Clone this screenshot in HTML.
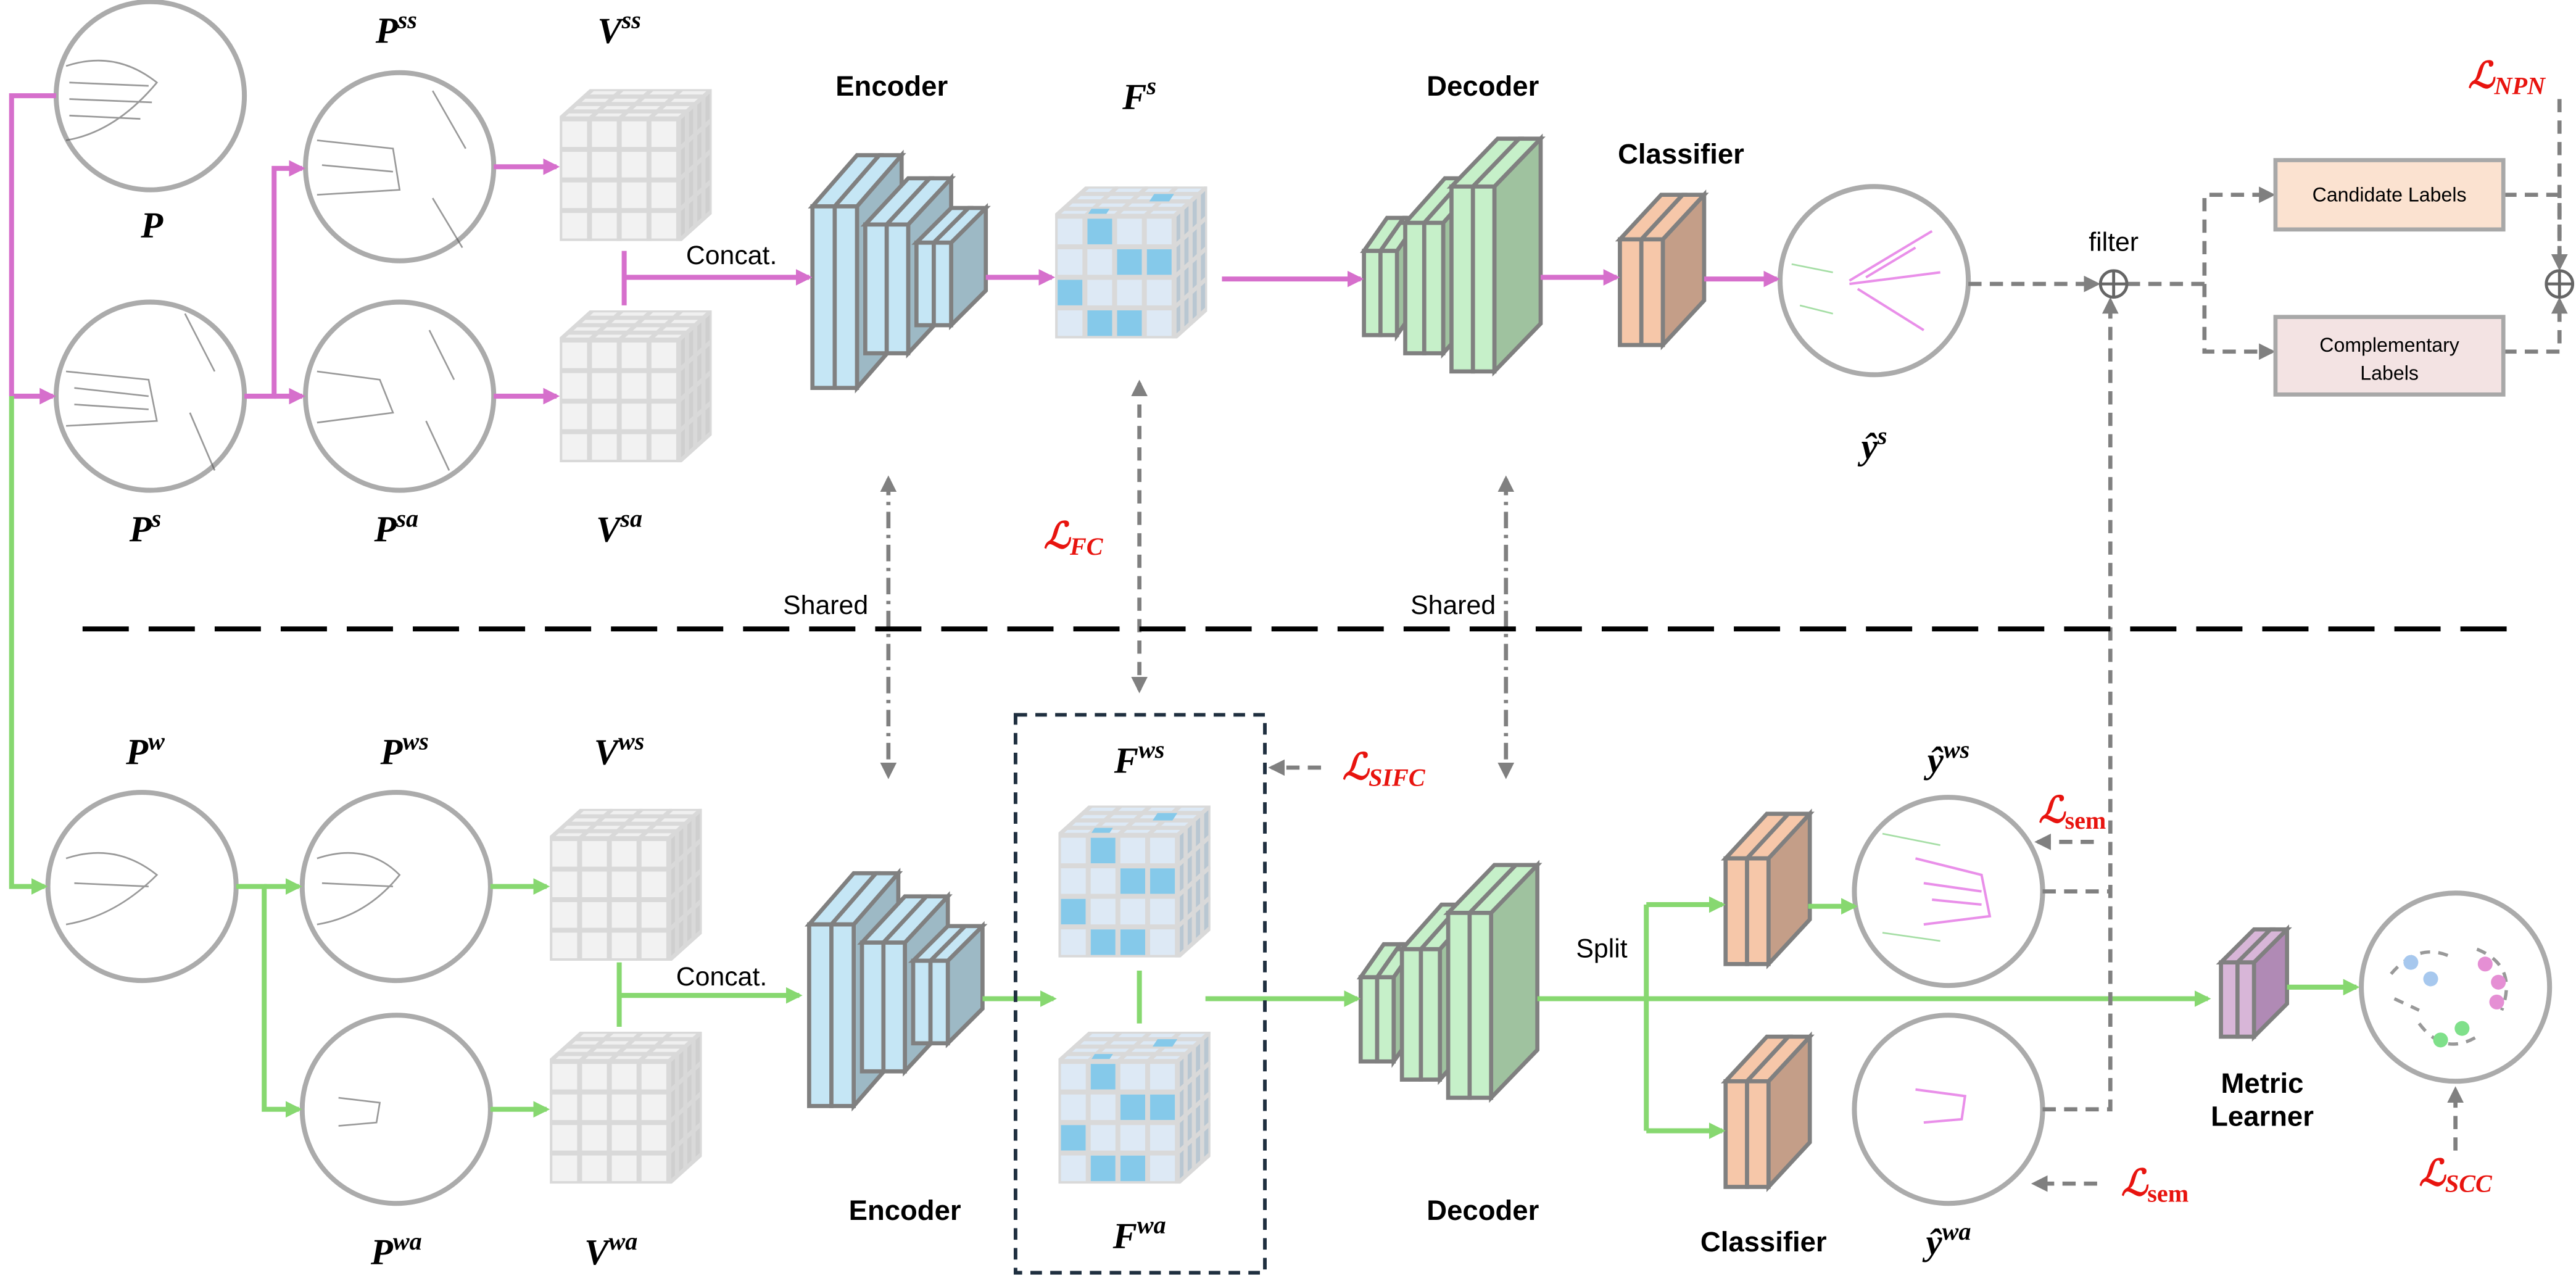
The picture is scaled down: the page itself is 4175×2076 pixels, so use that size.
<!DOCTYPE html>
<html><head><meta charset="utf-8"><style>
html,body{margin:0;padding:0;background:#fff}
svg{display:block}
.m{font-family:"Liberation Serif",serif;font-weight:bold;font-style:italic;font-size:22px;text-anchor:middle}
.r{fill:#E8140F}
.b{font-family:"Liberation Sans",sans-serif;font-weight:bold;font-size:17px;text-anchor:middle}
.n{font-family:"Liberation Sans",sans-serif;font-size:16px;text-anchor:middle}
.s{font-family:"Liberation Sans",sans-serif;font-size:12px;text-anchor:middle}
</style></head><body>
<svg width="4175" height="2076" viewBox="0 0 1560 776" preserveAspectRatio="none" xmlns="http://www.w3.org/2000/svg">
<defs>
<marker id="ap" markerWidth="10" markerHeight="10" refX="8" refY="5" orient="auto" markerUnits="userSpaceOnUse"><path d="M0,0 L10,5 L0,10 z" fill="#D66FCC"/></marker>
<marker id="ag" markerWidth="10" markerHeight="10" refX="8" refY="5" orient="auto" markerUnits="userSpaceOnUse"><path d="M0,0 L10,5 L0,10 z" fill="#87D870"/></marker>
<marker id="ak" markerWidth="10" markerHeight="10" refX="8" refY="5" orient="auto-start-reverse" markerUnits="userSpaceOnUse"><path d="M0,0 L10,5 L0,10 z" fill="#808080"/></marker>
<symbol id="vc" viewBox="0 0 92 92" width="92" height="92">
<polygon points="0,18 20,0 92,0 72,18" fill="#f0f0f0" stroke="#d9d9d9" stroke-width="2.5"/>
<polygon points="72,18 92,0 92,74 72,92" fill="#cfcfcf" stroke="#d9d9d9" stroke-width="2.5"/>
<path d="M5,13.5 H77 M10,9 H82 M15,4.5 H87 M18,18 L38,0 M36,18 L56,0 M54,18 L74,0 M77,13.5 V87.5 M82,9 V83 M87,4.5 V78.5 M72,36.5 L92,18.5 M72,55 L92,37 M72,73.5 L92,55.5" stroke="#d9d9d9" stroke-width="2.5" fill="none"/>
<rect x="0" y="18" width="72" height="74" fill="#f2f2f2" stroke="#d9d9d9" stroke-width="3"/>
<path d="M18,18 V92 M36,18 V92 M54,18 V92 M0,36.5 H72 M0,55 H72 M0,73.5 H72" stroke="#d9d9d9" stroke-width="3"/>
</symbol>
<symbol id="fc" viewBox="0 0 92 92" width="92" height="92">
<polygon points="0,18 20,0 92,0 72,18" fill="#dde9f5" stroke="#d9d9d9" stroke-width="2.5"/>
<polygon points="72,18 92,0 92,74 72,92" fill="#b9c7d2" stroke="#d9d9d9" stroke-width="2.5"/>
<path d="M5,13.5 H77 M10,9 H82 M15,4.5 H87 M18,18 L38,0 M36,18 L56,0 M54,18 L74,0 M77,13.5 V87.5 M82,9 V83 M87,4.5 V78.5 M72,36.5 L92,18.5 M72,55 L92,37 M72,73.5 L92,55.5" stroke="#d9d9d9" stroke-width="2.5" fill="none"/>
<polygon points="60,4.5 72,4.5 69,9 57,9" fill="#85C9EA"/>
<polygon points="22,13.5 33,13.5 30,18 19,18" fill="#85C9EA"/>
<rect x="0" y="18" width="72" height="74" fill="#dde9f5" stroke="#d9d9d9" stroke-width="3"/>
<rect x="19.5" y="19.5" width="15" height="15.5" fill="#85C9EA"/>
<rect x="37.5" y="38" width="15" height="15.5" fill="#85C9EA"/>
<rect x="55.5" y="38" width="15" height="15.5" fill="#85C9EA"/>
<rect x="1.5" y="56.5" width="15" height="15.5" fill="#85C9EA"/>
<rect x="19.5" y="75" width="15" height="15.5" fill="#85C9EA"/>
<rect x="37.5" y="75" width="15" height="15.5" fill="#85C9EA"/>
<path d="M18,18 V92 M36,18 V92 M54,18 V92 M0,36.5 H72 M0,55 H72 M0,73.5 H72" stroke="#d9d9d9" stroke-width="3"/>
</symbol>
</defs>

<!-- top encoder -->
<g id="enc" stroke="#808080" stroke-width="2.5" stroke-linejoin="miter">
<polygon points="519,125 546,94 546,204 519,235" fill="#9DB9C5"/>
<polygon points="492,125 519,94 532.5,94 505.5,125" fill="#C5E6F5"/>
<polygon points="505.5,125 532.5,94 546,94 519,125" fill="#C5E6F5"/>
<rect x="492" y="125" width="13.5" height="110" fill="#C5E6F5"/>
<rect x="505.5" y="125" width="13.5" height="110" fill="#C5E6F5"/>
<polygon points="550,136 576,108 576,186 550,214" fill="#9DB9C5"/>
<polygon points="524,136 550,108 563,108 537,136" fill="#C5E6F5"/>
<polygon points="537,136 563,108 576,108 550,136" fill="#C5E6F5"/>
<rect x="524" y="136" width="13" height="78" fill="#C5E6F5"/>
<rect x="537" y="136" width="13" height="78" fill="#C5E6F5"/>
<polygon points="576,147 597,126 597,176 576,197" fill="#9DB9C5"/>
<polygon points="555,147 576,126 586.5,126 565.5,147" fill="#C5E6F5"/>
<polygon points="565.5,147 586.5,126 597,126 576,147" fill="#C5E6F5"/>
<rect x="555" y="147" width="10.5" height="50" fill="#C5E6F5"/>
<rect x="565.5" y="147" width="10.5" height="50" fill="#C5E6F5"/>
</g>
<use href="#enc" transform="translate(-2,435)"/>

<!-- top decoder -->
<g id="dec" stroke="#808080" stroke-width="2.5">
<polygon points="846,152 860,132 860,183 846,203" fill="#9FC29F"/>
<polygon points="826,152 840,132 850,132 836,152" fill="#C6F0C9"/>
<polygon points="836,152 850,132 860,132 846,152" fill="#C6F0C9"/>
<rect x="826" y="152" width="10" height="51" fill="#C6F0C9"/>
<rect x="836" y="152" width="10" height="51" fill="#C6F0C9"/>
<polygon points="874,135 898,108 898,187 874,214" fill="#9FC29F"/>
<polygon points="851,135 875,108 886.5,108 862.5,135" fill="#C6F0C9"/>
<polygon points="862.5,135 886.5,108 898,108 874,135" fill="#C6F0C9"/>
<rect x="851" y="135" width="11.5" height="79" fill="#C6F0C9"/>
<rect x="862.5" y="135" width="11.5" height="79" fill="#C6F0C9"/>
<polygon points="905,113 933,84 933,196 905,225" fill="#9FC29F"/>
<polygon points="879,113 907,84 920,84 892,113" fill="#C6F0C9"/>
<polygon points="892,113 920,84 933,84 905,113" fill="#C6F0C9"/>
<rect x="879" y="113" width="13" height="112" fill="#C6F0C9"/>
<rect x="892" y="113" width="13" height="112" fill="#C6F0C9"/>
</g>
<use href="#dec" transform="translate(-2,440)"/>

<!-- classifiers -->
<g id="cls" stroke="#808080" stroke-width="2.5">
<polygon points="1007,145 1032,118 1032,182 1007,209" fill="#C49E88"/>
<polygon points="981,145 1006,118 1019,118 994,145" fill="#F6C7A9"/>
<polygon points="994,145 1019,118 1032,118 1007,145" fill="#F6C7A9"/>
<rect x="981" y="145" width="13" height="64" fill="#F6C7A9"/>
<rect x="994" y="145" width="13" height="64" fill="#F6C7A9"/>
</g>
<use href="#cls" transform="translate(64,375)"/>
<use href="#cls" transform="translate(64,510)"/>
<!-- metric learner -->
<g stroke="#808080" stroke-width="2.5">
<polygon points="1365,583 1385,563 1385,608 1365,628" fill="#B08AB5"/>
<polygon points="1345,583 1365,563 1375,563 1355,583" fill="#D8B6D8"/>
<polygon points="1355,583 1375,563 1385,563 1365,583" fill="#D8B6D8"/>
<rect x="1345" y="583" width="10" height="45" fill="#D8B6D8"/>
<rect x="1355" y="583" width="10" height="45" fill="#D8B6D8"/>
</g>

<!-- cubes -->
<use href="#vc" x="339" y="54" width="92" height="92"/>
<use href="#vc" x="339" y="188" width="92" height="92"/>
<use href="#vc" x="333" y="490" width="92" height="92"/>
<use href="#vc" x="333" y="625" width="92" height="92"/>
<use href="#fc" x="639" y="113" width="92" height="92"/>
<use href="#fc" x="641" y="488" width="92" height="92"/>
<use href="#fc" x="641" y="625" width="92" height="92"/>

<!-- circles -->
<g fill="#fff" stroke="#ababab" stroke-width="3">
<circle cx="91" cy="58" r="57"/><circle cx="91" cy="240" r="57"/>
<circle cx="242" cy="101" r="57"/><circle cx="242" cy="240" r="57"/>
<circle cx="1135" cy="170" r="57"/>
<circle cx="86" cy="537" r="57"/><circle cx="240" cy="537" r="57"/><circle cx="240" cy="672" r="57"/>
<circle cx="1180" cy="540" r="57"/><circle cx="1180" cy="672" r="57"/>
<circle cx="1487" cy="598" r="57"/>
</g>
<!-- rough point clouds -->
<g stroke="#555" stroke-width="1" fill="none" opacity="0.6">
<path d="M40,40 Q70,30 95,50 Q70,80 40,85 M42,50 L90,52 M42,60 L92,62 M42,70 L85,72"/>
<path d="M40,225 L90,230 L95,255 L40,258 M45,235 L90,240 M45,245 L90,248 M112,190 L130,225 M115,250 L130,285"/>
<path d="M192,85 L238,90 L242,115 L192,118 M195,100 L238,104 M262,55 L282,90 M262,120 L280,150"/>
<path d="M192,225 L230,230 L238,250 L192,256 M260,200 L275,230 M258,255 L272,285"/>
<path d="M40,520 Q70,510 95,530 Q70,555 40,560 M45,535 L90,537"/>
<path d="M192,520 Q222,510 242,530 Q222,555 192,560 M195,535 L238,537"/>
<path d="M205,665 L230,668 L228,680 L205,682"/>
</g>
<g stroke="#E060E0" stroke-width="1.5" fill="none" opacity="0.7">
<path d="M1120,170 L1170,140 M1120,172 L1175,165 M1125,175 L1165,200 M1130,168 L1160,150"/>
<path d="M1160,520 L1200,530 L1205,555 L1165,560 M1165,535 L1200,540 M1170,545 L1200,548"/>
<path d="M1160,660 L1190,664 L1188,678 L1165,680"/>
</g>
<g stroke="#7FD07F" stroke-width="1" fill="none" opacity="0.7">
<path d="M1085,160 L1110,165 M1090,185 L1110,190 M1140,505 L1175,512 M1140,565 L1175,570"/>
</g>
<!-- metric circle content -->
<g stroke="#999" stroke-width="2" fill="none" stroke-dasharray="6 5">
<path d="M1448,590 Q1465,570 1485,580"/><path d="M1500,575 Q1525,585 1515,612"/><path d="M1465,620 Q1480,640 1500,628"/><path d="M1450,605 L1465,612"/>
</g>
<g>
<circle cx="1460" cy="583" r="4.5" fill="#A7C8EE"/><circle cx="1472" cy="593" r="4.5" fill="#A7C8EE"/>
<circle cx="1505" cy="584" r="4.5" fill="#E58FD4"/><circle cx="1513" cy="595" r="4.5" fill="#E58FD4"/><circle cx="1512" cy="607" r="4.5" fill="#E58FD4"/>
<circle cx="1478" cy="630" r="4.5" fill="#7FE08A"/><circle cx="1491" cy="623" r="4.5" fill="#7FE08A"/>
</g>

<!-- pink connectors -->
<g stroke="#D66FCC" stroke-width="3" fill="none">
<path d="M34,58 H7 V240"/>
<path d="M7,240 H32" marker-end="url(#ap)"/>
<path d="M148,240 H166 V102 H183" marker-end="url(#ap)"/>
<path d="M166,240 H183" marker-end="url(#ap)"/>
<path d="M299,101 H337" marker-end="url(#ap)"/>
<path d="M299,240 H337" marker-end="url(#ap)"/>
<path d="M378,152 V185"/>
<path d="M378,168 H490" marker-end="url(#ap)"/>
<path d="M597,168 H637" marker-end="url(#ap)"/>
<path d="M740,169 H824" marker-end="url(#ap)"/>
<path d="M933,168 H979" marker-end="url(#ap)"/>
<path d="M1032,169 H1076" marker-end="url(#ap)"/>
</g>
<!-- green connectors -->
<g stroke="#87D870" stroke-width="3" fill="none">
<path d="M7,240 V537 H27" marker-end="url(#ag)"/>
<path d="M143,537 H160 V672 H181" marker-end="url(#ag)"/>
<path d="M160,537 H181" marker-end="url(#ag)"/>
<path d="M297,537 H331" marker-end="url(#ag)"/>
<path d="M297,672 H331" marker-end="url(#ag)"/>
<path d="M375,583 V622"/>
<path d="M375,603 H484" marker-end="url(#ag)"/>
<path d="M595,605 H638" marker-end="url(#ag)"/>
<path d="M690,588 V620"/>
<path d="M730,605 H822" marker-end="url(#ag)"/>
<path d="M931,605 H1337" marker-end="url(#ag)"/>
<path d="M997,548 V685"/>
<path d="M997,548 H1043" marker-end="url(#ag)"/>
<path d="M997,685 H1043" marker-end="url(#ag)"/>
<path d="M1095,549 H1123" marker-end="url(#ag)"/>
<path d="M1385,598 H1427" marker-end="url(#ag)"/>
</g>

<!-- gray dashed -->
<g stroke="#808080" stroke-width="2.5" fill="none" stroke-dasharray="8 5">
<path d="M1192,172 H1270" marker-end="url(#ak)"/>
<path d="M1288,172 H1335 V118 H1376" marker-end="url(#ak)"/>
<path d="M1335,172 V213 H1376" marker-end="url(#ak)"/>
<path d="M1516,118 H1550 V162" marker-end="url(#ak)"/>
<path d="M1516,213 H1550 V182" marker-end="url(#ak)"/>
<path d="M1550,60 V162" marker-end="url(#ak)"/>
<path d="M1237,540 H1278 M1237,672 H1278 V182" marker-end="url(#ak)"/>
<path d="M1268,510 H1234" marker-end="url(#ak)"/>
<path d="M1270,717 H1232" marker-end="url(#ak)"/>
<path d="M1487,697 V660" marker-end="url(#ak)"/>
<path d="M800,465 H770" marker-end="url(#ak)"/>
<path d="M690,232 V418" marker-start="url(#ak)" marker-end="url(#ak)"/>
</g>
<g stroke="#808080" stroke-width="2.5" fill="none" stroke-dasharray="10 4 2 4">
<path d="M538,290 V470" marker-start="url(#ak)" marker-end="url(#ak)"/>
<path d="M912,290 V470" marker-start="url(#ak)" marker-end="url(#ak)"/>
</g>
<!-- oplus -->
<g stroke="#666" stroke-width="1.8" fill="#fff">
<circle cx="1280" cy="172" r="8"/><path d="M1272,172 H1288 M1280,164 V180"/>
<circle cx="1550" cy="172" r="8"/><path d="M1542,172 H1558 M1550,164 V180"/>
</g>
<!-- label boxes -->
<rect x="1378" y="97" width="138" height="42" fill="#FBE2D0" stroke="#a8a8a8" stroke-width="2.5"/>
<rect x="1378" y="192" width="138" height="47" fill="#F3E3E3" stroke="#a8a8a8" stroke-width="2.5"/>
<text class="s" x="1447" y="122">Candidate Labels</text>
<text class="s" x="1447" y="213">Complementary</text>
<text class="s" x="1447" y="230">Labels</text>

<!-- separator -->
<path d="M50,381 H1520" stroke="#000" stroke-width="3" stroke-dasharray="28 12"/>
<!-- dashed box -->
<rect x="615" y="433" width="151" height="338" fill="none" stroke="#1F2F3F" stroke-width="2.2" stroke-dasharray="7 5"/>

<!-- text -->
<text class="m" x="92" y="144">P</text>
<text class="m" x="88" y="328">P<tspan font-size="15" dy="-9">s</tspan></text>
<text class="m" x="240" y="26">P<tspan font-size="15" dy="-9">ss</tspan></text>
<text class="m" x="375" y="26">V<tspan font-size="15" dy="-9">ss</tspan></text>
<text class="m" x="240" y="328">P<tspan font-size="15" dy="-9">sa</tspan></text>
<text class="m" x="375" y="328">V<tspan font-size="15" dy="-9">sa</tspan></text>
<text class="m" x="690" y="66">F<tspan font-size="15" dy="-9">s</tspan></text>
<text class="m" x="1135" y="278">ŷ<tspan font-size="15" dy="-9">s</tspan></text>
<text class="m r" x="1518" y="53">ℒ<tspan font-size="15" dy="4">NPN</tspan></text>
<text class="m r" x="650" y="332">ℒ<tspan font-size="15" dy="4">FC</tspan></text>
<text class="m" x="88" y="463">P<tspan font-size="15" dy="-9">w</tspan></text>
<text class="m" x="245" y="463">P<tspan font-size="15" dy="-9">ws</tspan></text>
<text class="m" x="375" y="463">V<tspan font-size="15" dy="-9">ws</tspan></text>
<text class="m" x="240" y="766">P<tspan font-size="15" dy="-9">wa</tspan></text>
<text class="m" x="370" y="766">V<tspan font-size="15" dy="-9">wa</tspan></text>
<text class="m" x="690" y="468">F<tspan font-size="15" dy="-9">ws</tspan></text>
<text class="m" x="690" y="756">F<tspan font-size="15" dy="-9">wa</tspan></text>
<text class="m r" x="838" y="472">ℒ<tspan font-size="15" dy="4">SIFC</tspan></text>
<text class="m" x="1180" y="468">ŷ<tspan font-size="15" dy="-9">ws</tspan></text>
<text class="m" x="1180" y="760">ŷ<tspan font-size="15" dy="-9">wa</tspan></text>
<text class="m r" x="1255" y="498">ℒ<tspan font-size="15" dy="4" font-style="normal">sem</tspan></text>
<text class="m r" x="1305" y="724">ℒ<tspan font-size="15" dy="4" font-style="normal">sem</tspan></text>
<text class="m r" x="1487" y="718">ℒ<tspan font-size="15" dy="4">SCC</tspan></text>

<text class="b" x="540" y="58">Encoder</text>
<text class="b" x="898" y="58">Decoder</text>
<text class="b" x="1018" y="99">Classifier</text>
<text class="b" x="548" y="739">Encoder</text>
<text class="b" x="898" y="739">Decoder</text>
<text class="b" x="1068" y="758">Classifier</text>
<text class="b" x="1370" y="662" font-size="14">Metric</text>
<text class="b" x="1370" y="682" font-size="14">Learner</text>
<text class="n" x="443" y="160">Concat.</text>
<text class="n" x="437" y="597">Concat.</text>
<text class="n" x="500" y="372">Shared</text>
<text class="n" x="880" y="372">Shared</text>
<text class="n" x="1280" y="152">filter</text>
<text class="n" x="970" y="580">Split</text>
</svg>
</body></html>
